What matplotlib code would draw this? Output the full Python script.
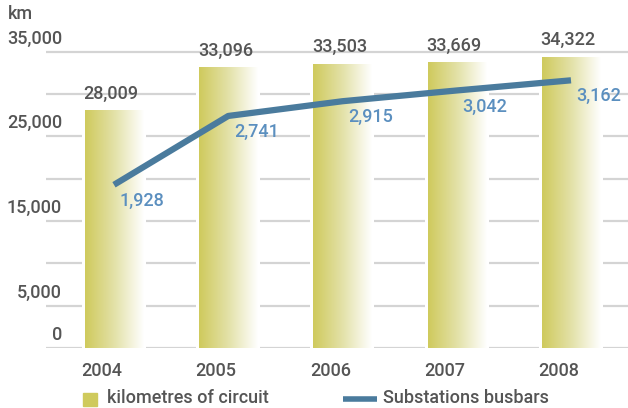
import matplotlib
matplotlib.use("Agg")
import matplotlib.pyplot as plt
import numpy as np
from matplotlib.colors import LinearSegmentedColormap
from matplotlib.patches import Rectangle
from matplotlib.lines import Line2D
import matplotlib.transforms as mtransforms

plt.rcParams['font.family'] = ['Roboto', 'DejaVu Sans']
plt.rcParams['font.weight'] = 'medium'

years = ["2004", "2005", "2006", "2007", "2008"]
km_circuit = [28009, 33096, 33503, 33669, 34322]
busbars = [1928, 2741, 2915, 3042, 3162]
km_labels = ["28,009", "33,096", "33,503", "33,669", "34,322"]
bus_labels = ["1,928", "2,741", "2,915", "3,042", "3,162"]
ytick_vals = [0, 5000, 15000, 25000, 35000]
ytick_labels = ["0", "5,000", "15,000", "25,000", "35,000"]
grid_vals = list(range(0, 35001, 5000))

TEXT = "#555555"
OLIVE = "#cfca5c"
LINE = "#4a7b9d"
BLUE_TXT = "#5b8fbf"
GRID = "#d4d4d4"

W, H = 628, 408
fig = plt.figure(figsize=(W / 100, H / 100), dpi=100)
ax_left = 46 / W
ax_bottom = 1 - 348 / H
ax_top = 1 - 39 / H
ax = fig.add_axes([ax_left, ax_bottom, 1 - ax_left, ax_top - ax_bottom])

x = np.arange(len(years))
bw = 0.51
ymax = 36500

for g in grid_vals:
    ax.axhline(g, color=GRID, lw=1.6, zorder=1)

cmap = LinearSegmentedColormap.from_list("olive", [OLIVE, "#e3e1a8", "#ffffff"])
grad = np.linspace(0, 1, 256).reshape(1, -1)
ax.bar(x, km_circuit, width=bw + 0.05, color="white", zorder=2)
for xi, v in zip(x, km_circuit):
    ax.imshow(grad, extent=[xi - bw / 2, xi + bw / 2, 0, v], aspect="auto",
              cmap=cmap, zorder=3, interpolation="bicubic")

ax.plot(x, [b * 10 for b in busbars], color=LINE, lw=4.5, zorder=4,
        solid_capstyle="butt")

for xi, v, lab in zip(x, km_circuit, km_labels):
    ax.annotate(lab, (xi, v), xytext=(-2, 6), textcoords="offset points",
                ha="center", va="bottom", fontsize=13, color=TEXT)

for xi, b, lab in zip(x, busbars, bus_labels):
    ax.annotate(lab, (xi, b * 10), xytext=(4, -5), textcoords="offset points",
                ha="left", va="top", fontsize=13, color=BLUE_TXT, zorder=5)

ax.set_xlim(-0.595, 4.499)
ax.set_ylim(0, ymax)
for s in ax.spines.values():
    s.set_visible(False)
ax.set_yticks([])
ax.set_xticks(x)
ax.set_xticklabels(years, fontsize=13, color=TEXT)
ax.tick_params(axis="x", length=0, pad=10)
offs = mtransforms.ScaledTranslation(-12 / 100, 0, fig.dpi_scale_trans)
for lbl in ax.get_xticklabels():
    lbl.set_transform(lbl.get_transform() + offs)

trans = mtransforms.blended_transform_factory(fig.transFigure, ax.transData)
for v, lab in zip(ytick_vals, ytick_labels):
    ax.annotate(lab, (62 / W, v), xycoords=trans, xytext=(0, 3),
                textcoords="offset points", ha="right", va="bottom",
                fontsize=13, color=TEXT, annotation_clip=False)

fig.text(8 / W, 1 - 14 / H, "km", fontsize=13, color=TEXT, ha="left", va="center")

fig.add_artist(Rectangle((83 / W, 1 - 406 / H), 14 / W, 13 / H,
                         transform=fig.transFigure, color=OLIVE))
fig.text(107 / W, 1 - 398 / H, "kilometres of circuit", fontsize=13, color=TEXT,
         ha="left", va="center")
fig.add_artist(Line2D([343 / W, 377 / W], [1 - 399 / H, 1 - 399 / H],
                      transform=fig.transFigure, color=LINE, lw=4,
                      solid_capstyle="butt"))
fig.text(383 / W, 1 - 398 / H, "Substations busbars", fontsize=13, color=TEXT,
         ha="left", va="center")

fig.savefig("out.png", dpi=100)
